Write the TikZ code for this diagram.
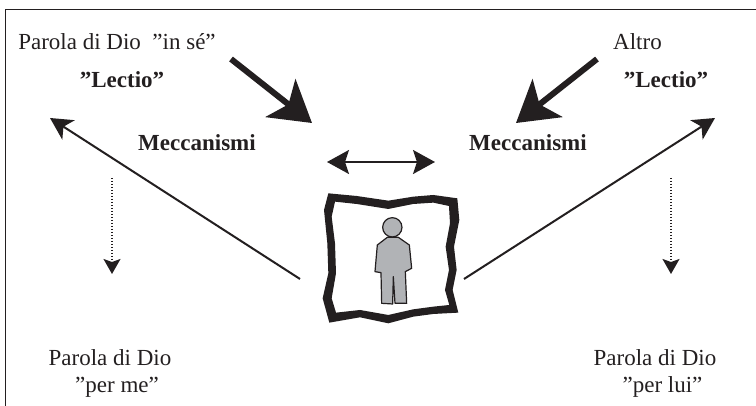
\documentclass[tikz,border=0pt]{standalone}
\usepackage{tikz}
\usepackage{xcolor}
\usepackage{fontspec}
\setmainfont{Liberation Serif}
\usetikzlibrary{arrows.meta}
\definecolor{inkcolor}{HTML}{231f20}
\definecolor{figurecolor}{HTML}{b1b3b6}
\tikzset{
    plainlabel/.style = {anchor = base, inner sep = 0pt, text = inkcolor, font = \fontsize{23}{27}\selectfont},
    boldlabel/.style = {plainlabel, font = \fontsize{23}{27}\selectfont\bfseries},
    heavyarrow/.style = {-{Stealth[length = 40pt, width = 48pt, inset = 10pt]}, draw = inkcolor, line width = 6pt},
    thinarrow/.style = {-{Stealth[length = 22pt, width = 23pt, inset = 6pt]}, draw = inkcolor, line width = 2pt},
    bothwayarrow/.style = {{Stealth[length = 22pt, width = 24pt, inset = 4pt]}-{Stealth[length = 22pt, width = 24pt, inset = 4pt]}, draw = inkcolor, line width = 2pt},
    dottedarrow/.style = {-{Stealth[length = 15pt, width = 17pt, inset = 3pt]}, draw = inkcolor, line width = 1.5pt, dash pattern = on 1.5pt off 1.5pt},
}
\begin{document}
\begin{tikzpicture}

        \useasboundingbox (0pt, 0pt) rectangle (756pt, 406pt);

        % Border
        \draw [draw = inkcolor, line width = 1.6pt] (5.5pt, 0pt) -- (5.5pt, 396.5pt) -- (756pt, 396.5pt);

        % Labels
        \node [plainlabel] (wordself) at (117pt, 356pt) {Parola di Dio\ \ "in sé"};
        \node [plainlabel] (other) at (637.5pt, 356pt) {Altro};
        \node [boldlabel] (lectioleft) at (122pt, 318pt) {"Lectio"};
        \node [boldlabel] (lectioright) at (666pt, 318pt) {"Lectio"};
        \node [boldlabel] (mechleft) at (197pt, 255pt) {Meccanismi};
        \node [boldlabel] (mechright) at (528pt, 255pt) {Meccanismi};
        \node [plainlabel] (wordme) at (110pt, 40pt) {Parola di Dio};
        \node [plainlabel] (perme) at (117pt, 13pt) {"per me"};
        \node [plainlabel] (wordhim) at (655pt, 40pt) {Parola di Dio};
        \node [plainlabel] (perhim) at (662.5pt, 13pt) {"per lui"};

        % Arrow Ends
        \coordinate (heavylefttail) at (231pt, 347pt);
        \coordinate (heavylefttip) at (312pt, 283pt);
        \coordinate (heavyrighttail) at (597pt, 347pt);
        \coordinate (heavyrighttip) at (516pt, 283pt);
        \coordinate (thinlefttail) at (300pt, 127pt);
        \coordinate (thinlefttip) at (50pt, 288pt);
        \coordinate (thinrighttail) at (464pt, 127pt);
        \coordinate (thinrighttip) at (715pt, 288pt);
        \coordinate (bothleft) at (327pt, 244pt);
        \coordinate (bothright) at (435pt, 244pt);
        \coordinate (dottedlefttail) at (112pt, 228pt);
        \coordinate (dottedlefttip) at (112pt, 132pt);
        \coordinate (dottedrighttail) at (671pt, 228pt);
        \coordinate (dottedrighttip) at (671pt, 132pt);

        % Arrows
        \draw [heavyarrow] (heavylefttail) -- (heavylefttip);
        \draw [heavyarrow] (heavyrighttail) -- (heavyrighttip);
        \draw [thinarrow] (thinlefttail) -- (thinlefttip);
        \draw [thinarrow] (thinrighttail) -- (thinrighttip);
        \draw [bothwayarrow] (bothleft) -- (bothright);
        \draw [dottedarrow] (dottedlefttail) -- (dottedlefttip);
        \draw [dottedarrow] (dottedrighttail) -- (dottedrighttip);

        % Frame And Figure
        \begin{scope}[shift = {(300pt, 276pt)}, x = 0.3333pt, y = -0.3333pt]
            \fill [inkcolor, even odd rule]
                (85,190) -- (170,198) -- (265,212) -- (340,200) -- (400,195) -- (472,205) -- (478,270) -- (462,350) -- (470,420) -- (458,480) -- (475,548) -- (400,552) -- (340,560) -- (265,580) -- (180,562) -- (88,578) -- (68,505) -- (85,430) -- (82,340) -- (72,240) -- cycle
                (105,215) -- (170,222) -- (265,237) -- (340,222) -- (400,218) -- (447,228) -- (450,280) -- (437,350) -- (447,420) -- (435,480) -- (448,525) -- (400,530) -- (340,538) -- (265,555) -- (180,540) -- (108,548) -- (95,505) -- (108,430) -- (105,340) -- (95,260) -- cycle;
            \draw [fill = figurecolor, draw = inkcolor, line width = 1.2pt] (277,292) circle [radius = 29];
            \draw [fill = figurecolor, draw = inkcolor, line width = 1.2pt, line join = round] (262,322) -- (232,345) -- (225,425) -- (243,428) -- (245,520) -- (278,522) -- (280,440) -- (285,520) -- (320,520) -- (316,425) -- (335,415) -- (328,345) -- (295,322) -- cycle;
        \end{scope}

\end{tikzpicture}
\end{document}
